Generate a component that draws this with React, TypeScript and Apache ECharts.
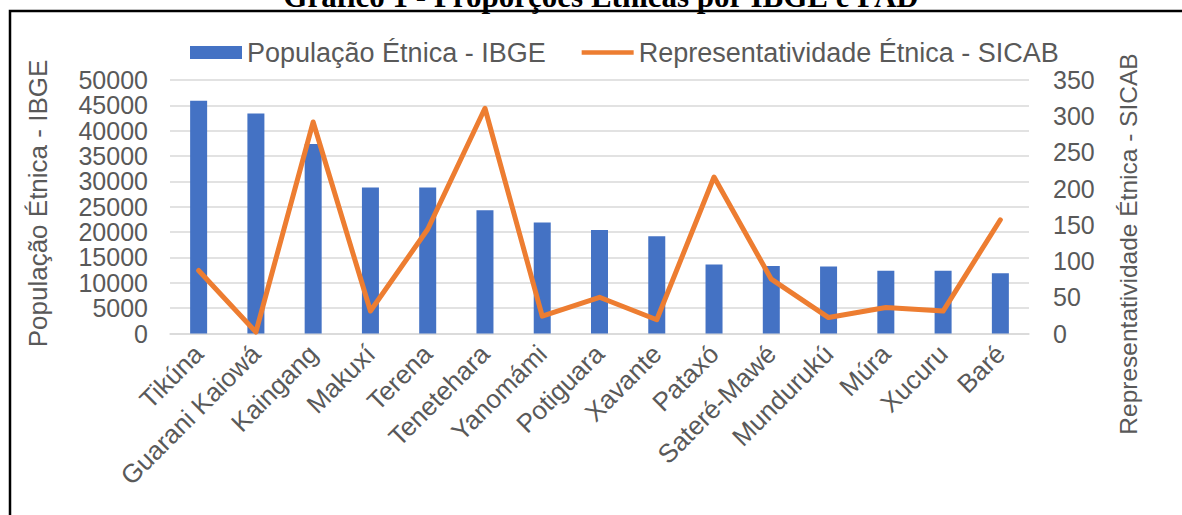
import React, { useEffect, useRef } from "react";
import * as echarts from "echarts";

const categories = [
  "Tikúna",
  "Guarani Kaiowá",
  "Kaingang",
  "Makuxí",
  "Terena",
  "Tenetehara",
  "Yanomámi",
  "Potiguara",
  "Xavante",
  "Pataxó",
  "Sateré-Mawé",
  "Mundurukú",
  "Múra",
  "Xucuru",
  "Baré",
];

const populacaoIBGE = [
  45900, 43400, 37400, 28800, 28800, 24300, 21900, 20400, 19200, 13600, 13300,
  13200, 12400, 12400, 11900,
];

const representatividadeSICAB = [
  87, 2, 292, 31, 144, 311, 24, 50, 19, 216, 75, 22, 36, 31, 157,
];

const leftTicks = { min: 0, max: 50000, interval: 5000 };
const rightTicks = { min: 0, max: 350, interval: 50 };

const barName = "População Étnica - IBGE";
const lineName = "Representatividade Étnica - SICAB";
const titleText = "Gráfico 1 - Proporções Étnicas por IBGE e PAD";

const FONT = "'Liberation Sans', Arial, sans-serif";
const GREY = "#595959";

export default function App() {
  const ref = useRef<HTMLDivElement>(null);

  useEffect(() => {
    if (!ref.current) return;
    const chart = echarts.init(ref.current, null, { renderer: "svg" });
    chart.setOption({
      animation: false,
      backgroundColor: "#ffffff",
      textStyle: { fontFamily: FONT },
      grid: { left: 170, right: 153, top: 80, bottom: 181.5, containLabel: false },
      legend: {
        left: 185,
        top: 34,
        itemWidth: 52,
        itemHeight: 13,
        itemGap: 36,
        textStyle: { fontSize: 27, color: GREY, fontFamily: FONT },
        data: [
          { name: barName, icon: "rect" },
          { name: lineName, icon: "path://M0,0 L60,0 L60,5 L0,5 Z" },
        ],
      },
      xAxis: {
        type: "category",
        data: categories,
        axisTick: { show: false },
        axisLine: { lineStyle: { color: "#d9d9d9", width: 1.5 } },
        axisLabel: {
          rotate: 45,
          interval: 0,
          margin: 16,
          fontSize: 26,
          color: GREY,
          fontFamily: FONT,
        },
      },
      yAxis: [
        {
          type: "value",
          min: leftTicks.min,
          max: leftTicks.max,
          interval: leftTicks.interval,
          axisLine: { show: false },
          axisTick: { show: false },
          axisLabel: {
            fontSize: 25,
            color: GREY,
            margin: 22,
            fontFamily: FONT,
            formatter: (v: number) => String(v),
          },
          splitLine: { lineStyle: { color: "#d9d9d9", width: 1.5 } },
        },
        {
          type: "value",
          min: rightTicks.min,
          max: rightTicks.max,
          interval: rightTicks.interval,
          axisLine: { show: false },
          axisTick: { show: false },
          axisLabel: {
            fontSize: 25,
            color: GREY,
            margin: 24,
            fontFamily: FONT,
            formatter: (v: number) => String(v),
          },
          splitLine: { show: false },
        },
      ],
      series: [
        {
          name: barName,
          type: "bar",
          data: populacaoIBGE,
          barWidth: 17,
          itemStyle: { color: "#4472C4" },
          yAxisIndex: 0,
        },
        {
          name: lineName,
          type: "line",
          data: representatividadeSICAB,
          yAxisIndex: 1,
          symbol: "none",
          itemStyle: { color: "#ED7D31" },
          lineStyle: { color: "#ED7D31", width: 5, join: "round", cap: "round" },
          z: 3,
        },
      ],
      graphic: [
        {
          type: "rect",
          shape: { x: 10, y: 11, width: 1300, height: 700 },
          style: { fill: "none", stroke: "#000000", lineWidth: 2.5 },
          silent: true,
        },
        {
          type: "text",
          x: 601,
          y: -4,
          style: {
            text: titleText,
            fontFamily: "'Liberation Serif', 'Times New Roman', serif",
            fontWeight: "bold",
            fontSize: 31,
            fill: "#000000",
            align: "center",
            verticalAlign: "middle",
          },
        },
        {
          type: "text",
          x: 38,
          y: 203.5,
          rotation: Math.PI / 2,
          style: {
            text: barName,
            fontFamily: FONT,
            fontSize: 26,
            fill: GREY,
            align: "center",
            verticalAlign: "middle",
          },
        },
        {
          type: "text",
          x: 1128.5,
          y: 244,
          rotation: Math.PI / 2,
          style: {
            text: lineName,
            fontFamily: FONT,
            fontSize: 24.5,
            fill: GREY,
            align: "center",
            verticalAlign: "middle",
          },
        },
      ],
    });
    return () => chart.dispose();
  }, []);

  return (
    <div
      ref={ref}
      style={{ position: "fixed", left: 0, top: 0, width: 1182, height: 515 }}
    />
  );
}
